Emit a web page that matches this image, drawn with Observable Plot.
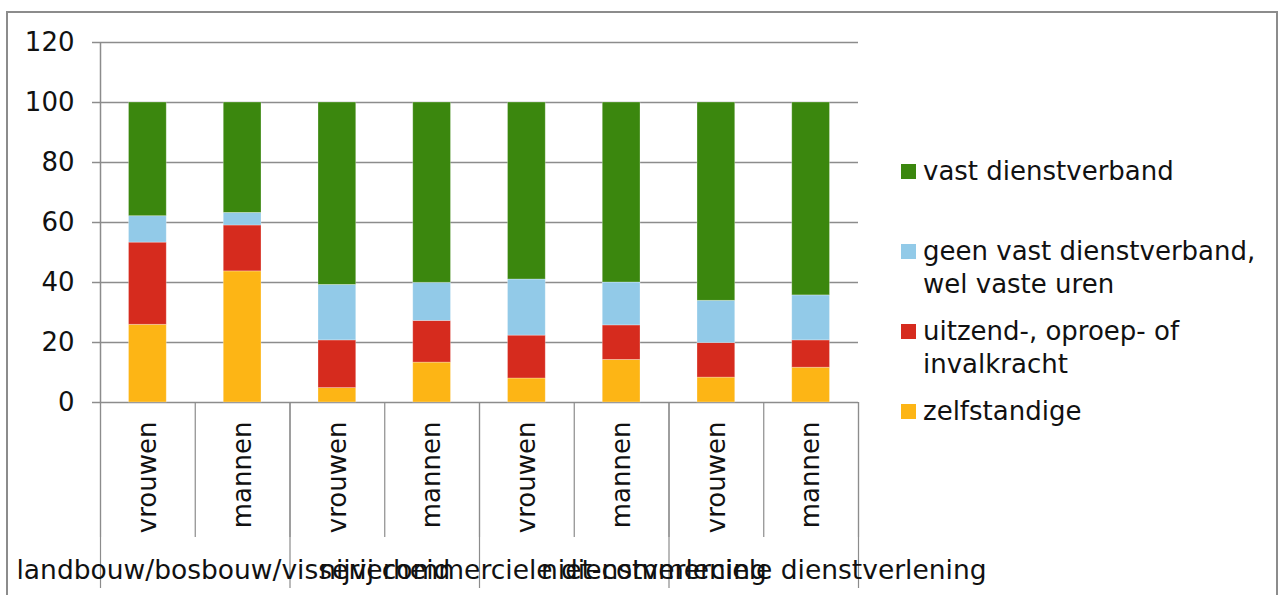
<!DOCTYPE html>
<html>
<head>
<meta charset="utf-8">
<script src="https://cdn.jsdelivr.net/npm/d3@7"></script>
<script src="https://cdn.jsdelivr.net/npm/@observablehq/plot@0.6"></script>
<style>
  html, body { margin: 0; padding: 0; background: #fff; }
  #wrap { position: relative; width: 1288px; height: 595px; overflow: hidden; font-family: "DejaVu Sans", Verdana, sans-serif; }
  #border { position: absolute; left: 6px; top: 11px; width: 1272px; height: 700px; border: 2px solid #8c8c8c; box-sizing: border-box; pointer-events: none; }
  #chart { position: absolute; left: 0; top: 0; }
  .item { position: absolute; left: 901px; width: 380px; font-size: 26px; line-height: 33px; color: #111; }
  .sw { position: absolute; left: 0; top: 9.5px; width: 15px; height: 15px; }
  .lbl { position: absolute; left: 22px; width: 345px; }
</style>
</head>
<body>
<div id="wrap">
  <div id="border"></div>
  <div id="chart"></div>
  <div id="legend"></div>
</div>
<script>
// ---- data ----
const groups = ["landbouw/bosbouw/visserij", "nijverheid", "commerciele dienstverlening", "niet-commerciele dienstverlening"];
const sexes = ["vrouwen", "mannen"];
const seriesNames = ["zelfstandige", "uitzend-, oproep- of invalkracht", "geen vast dienstverband, wel vaste uren", "vast dienstverband"];
const zelfstandige = [25.9, 43.7, 4.8, 13.3, 8.0, 14.2, 8.3, 11.6];
const uitzend      = [27.4, 15.3, 15.9, 13.9, 14.3, 11.5, 11.5, 9.1];
const geenVast     = [8.8, 4.2, 18.5, 12.7, 18.7, 14.3, 14.1, 15.0];
const vast         = [37.9, 36.8, 60.8, 60.1, 59.0, 60.0, 66.1, 64.3];
const yTicks = [0, 20, 40, 60, 80, 100, 120];
const colors = ["#fdb515", "#d62b1e", "#92cae8", "#3b870e"];

// ---- build table ----
const seriesValues = [zelfstandige, uitzend, geenVast, vast];
const bars = groups.flatMap((g, gi) => sexes.map((s, si) => ({group: g, sex: s, i: gi * sexes.length + si})));
const rows = [];
bars.forEach(b => {
  let base = 0;
  seriesNames.forEach((name, k) => {
    const v = seriesValues[k][b.i];
    rows.push({i: b.i, series: name, y1: base, y2: base + v});
    base += v;
  });
});
const nBars = bars.length;
const slotCenters = bars.map(b => b.i + 0.5);
const sepAll = d3.range(0, nBars + 1);
const sepGroups = d3.range(0, nBars + 1, sexes.length);
const groupCenters = groups.map((g, gi) => gi * sexes.length + sexes.length / 2);
const gray = "#8c8c8c";

const plot = Plot.plot({
  width: 1288,
  height: 595,
  marginLeft: 100,
  marginRight: 430,
  marginTop: 42,
  marginBottom: 193,
  style: {fontFamily: "'DejaVu Sans', Verdana, sans-serif", fontSize: "26px", color: "#111", background: "transparent", overflow: "visible"},
  x: {domain: [0, nBars], axis: null},
  y: {domain: [0, 120], axis: null},
  color: {domain: seriesNames, range: colors},
  marks: [
    Plot.ruleY(yTicks, {stroke: gray, strokeWidth: 1.5}),
    Plot.rect(rows, {x1: "i", x2: d => d.i + 1, y1: "y1", y2: "y2", fill: "series", insetLeft: 28.5, insetRight: 28.5, stroke: "#fff", strokeOpacity: 0.35, strokeWidth: 0.8}),
    Plot.ruleX([0], {stroke: gray, strokeWidth: 1.5}),
    Plot.axisY({ticks: yTicks, tickSize: 8, tickPadding: 18, stroke: gray, strokeWidth: 1.5, fill: "#111", fontSize: 26, label: null}),
    Plot.axisX({ticks: sepAll, tickSize: 135, tickFormat: () => "", stroke: gray, strokeWidth: 1.2, label: null}),
    Plot.axisX({ticks: sepGroups, tickSize: 186, tickFormat: () => "", stroke: gray, strokeWidth: 1.2, label: null}),
    Plot.axisX({ticks: slotCenters, tickSize: 0, tickPadding: 19, tickRotate: -90, tickFormat: v => bars[Math.floor(v)].sex, fill: "#111", fontSize: 26, label: null}),
    Plot.axisX({ticks: groupCenters, tickSize: 0, tickPadding: 158, tickFormat: v => groups[groupCenters.indexOf(v)], fill: "#111", fontSize: 26.5, label: null})
  ]
});
document.getElementById("chart").appendChild(plot);

// ---- legend (reverse order, top = last series) ----
const color = plot.scale("color");
const legendTops = [154.5, 234.5, 314.5, 394.5];
const legend = document.getElementById("legend");
seriesNames.slice().reverse().forEach((name, j) => {
  const item = document.createElement("div");
  item.className = "item";
  item.style.top = legendTops[j] + "px";
  const sw = document.createElement("div");
  sw.className = "sw";
  sw.style.background = color.apply(name);
  const lbl = document.createElement("div");
  lbl.className = "lbl";
  lbl.textContent = name;
  item.appendChild(sw);
  item.appendChild(lbl);
  legend.appendChild(item);
});
</script>
</body>
</html>
